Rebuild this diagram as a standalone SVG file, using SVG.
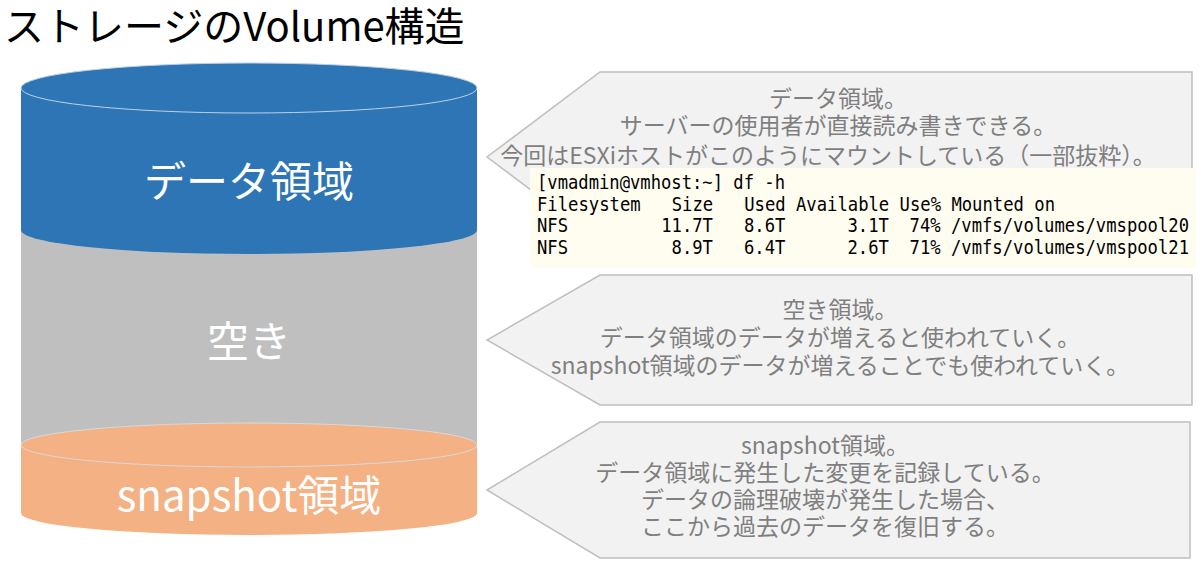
<svg xmlns="http://www.w3.org/2000/svg" width="1200" height="576" viewBox="0 0 1200 576">
<style>
.t{font-family:"Noto Sans CJK JP","Noto Sans",sans-serif}
.c{font-family:"Noto Sans CJK JP","Noto Sans",sans-serif;font-size:23px;fill:#7f7f7f;text-anchor:middle}
.w{font-family:"Noto Sans CJK JP","Noto Sans",sans-serif;font-size:42px;fill:#fff;text-anchor:middle}
.m{font-family:"DejaVu Sans Mono","Liberation Mono",monospace;font-size:20px;fill:#000;white-space:pre}
.co{fill:#f2f2f2;stroke:#bfbfbf;stroke-width:1.5}
</style>
<rect width="1200" height="576" fill="#fff"/>
<text class="t" x="4" y="41" font-size="40" fill="#000">ストレージのVolume構造</text>
<g id="cylinder">
<path d="M21,445 L21,513 A228,22 0 0 0 477,513 L477,445 Z" fill="#f4b183"/>
<path d="M21,230 L21,445 L477,445 L477,230 Z" fill="#bfbfbf"/>
<ellipse cx="249" cy="445" rx="228" ry="22" fill="#f4b183" stroke="#d9d9d9" stroke-width="1"/>
<path d="M21,88 L21,230 A228,24 0 0 0 477,230 L477,88 Z" fill="#2e75b6"/>
<ellipse cx="249" cy="88" rx="228" ry="25" fill="#2e75b6" stroke="#bdd0e6" stroke-width="1"/>
<text class="w" x="249" y="197">データ領域</text>
<text class="w" x="249" y="357">空き</text>
<text class="w" x="249" y="511">snapshot領域</text>
</g>
<g id="callout1">
<polygon class="co" points="600,72 1192,72 1192,242 600,242 487,157"/>
<text class="c" x="838" y="107">データ領域。</text>
<text class="c" x="838" y="134">サーバーの使用者が直接読み書きできる。</text>
<text class="c" x="828" y="164">今回はESXiホストがこのようにマウントしている（一部抜粋）。</text>
</g>
<g id="code">
<rect x="530" y="168" width="666" height="100" fill="#fffcf0"/>
<text class="m" x="537" y="189" textLength="248" lengthAdjust="spacingAndGlyphs" xml:space="preserve">[vmadmin@vmhost:~] df -h</text>
<text class="m" x="537" y="211" textLength="518" lengthAdjust="spacingAndGlyphs" xml:space="preserve">Filesystem   Size   Used Available Use% Mounted on</text>
<text class="m" x="537" y="232" textLength="652" lengthAdjust="spacingAndGlyphs" xml:space="preserve">NFS         11.7T   8.6T      3.1T  74% /vmfs/volumes/vmspool20</text>
<text class="m" x="537" y="254" textLength="652" lengthAdjust="spacingAndGlyphs" xml:space="preserve">NFS          8.9T   6.4T      2.6T  71% /vmfs/volumes/vmspool21</text>
</g>
<g id="callout2">
<polygon class="co" points="600,275 1192,275 1192,405 600,405 487,340"/>
<text class="c" x="840" y="318">空き領域。</text>
<text class="c" x="840" y="346">データ領域のデータが増えると使われていく。</text>
<text class="c" x="840" y="374">snapshot領域のデータが増えることでも使われていく。</text>
</g>
<g id="callout3">
<polygon class="co" points="600,422 1190,422 1190,558 600,558 487,490"/>
<text class="c" x="825" y="454">snapshot領域。</text>
<text class="c" x="825" y="481">データ領域に発生した変更を記録している。</text>
<text class="c" x="825" y="508">データの論理破壊が発生した場合、</text>
<text class="c" x="825" y="535">ここから過去のデータを復旧する。</text>
</g>
</svg>
